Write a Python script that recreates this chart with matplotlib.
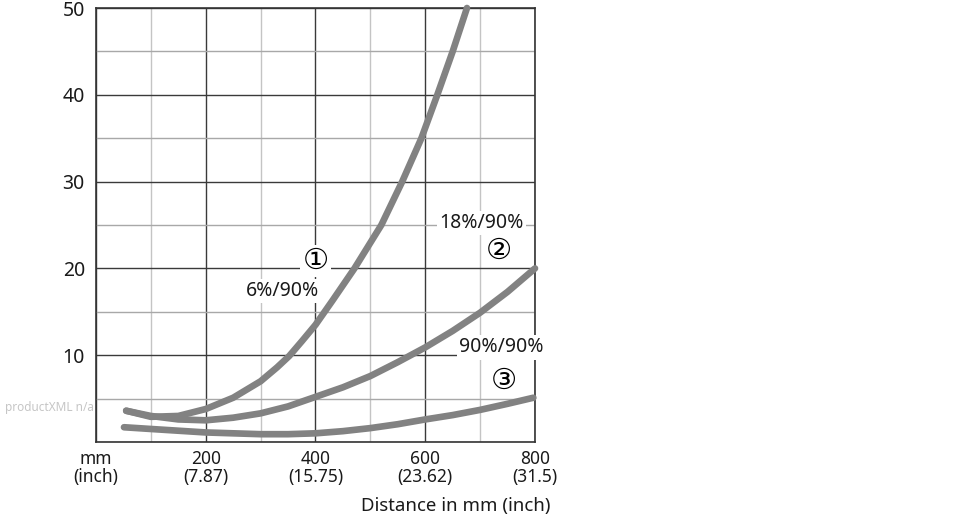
import matplotlib
matplotlib.use("Agg")
import matplotlib.pyplot as plt
from matplotlib.ticker import MultipleLocator

plt.rcParams['font.family'] = ['Noto Sans', 'DejaVu Sans']

# Curve 1: 6%/90%
x_6 = [55, 100, 150, 200, 250, 300, 330, 352, 375, 400, 431, 471, 520, 558, 593, 622, 650, 676]
y_6 = [3.6, 2.9, 3.0, 3.8, 5.1, 7.0, 8.6, 9.9, 11.6, 13.5, 16.3, 20.0, 25.0, 30.0, 35.0, 40.0, 45.0, 50.0]

# Curve 2: 18%/90%
x_18 = [55, 100, 150, 200, 250, 300, 350, 400, 450, 500, 550, 600, 650, 700, 750, 800]
y_18 = [3.6, 3.0, 2.6, 2.5, 2.8, 3.3, 4.1, 5.2, 6.3, 7.6, 9.2, 10.9, 12.8, 14.9, 17.3, 20.0]

# Curve 3: 90%/90%
x_90 = [51, 100, 150, 200, 250, 300, 350, 400, 450, 500, 550, 600, 650, 700, 750, 797]
y_90 = [1.7, 1.5, 1.3, 1.1, 1.0, 0.9, 0.9, 1.0, 1.25, 1.6, 2.05, 2.6, 3.1, 3.7, 4.4, 5.1]

x_ticks = [0, 200, 400, 600, 800]
x_labels = ["mm\n(inch)", "200\n(7.87)", "400\n(15.75)", "600\n(23.62)", "800\n(31.5)"]
y_ticks = [10, 20, 30, 40, 50]

fig = plt.figure(figsize=(9.7, 5.2), dpi=100)
ax = fig.add_axes([96 / 970, 78 / 520, 439 / 970, 434 / 520])

ax.set_xlim(0, 800)
ax.set_ylim(0, 50)

# Grid: major dark, minor lighter
ax.xaxis.set_minor_locator(MultipleLocator(100))
ax.yaxis.set_minor_locator(MultipleLocator(5))
ax.grid(True, which='major', color='#3a3a3a', linewidth=1.0, zorder=0)
ax.xaxis.grid(True, which='minor', color='#c4c4c4', linewidth=1.0, zorder=0)
ax.yaxis.grid(True, which='minor', color='#a8a8a8', linewidth=1.0, zorder=0)
ax.set_axisbelow(True)

for s in ax.spines.values():
    s.set_color('#333333')
    s.set_linewidth(1.2)

ax.set_xticks(x_ticks)
ax.set_xticklabels(x_labels, fontsize=12.5, color='#1a1a1a', linespacing=1.0)
ax.set_yticks(y_ticks)
ax.set_yticklabels([str(v) for v in y_ticks], fontsize=14, color='#1a1a1a')
ax.tick_params(which='both', length=0)
ax.tick_params(axis='y', pad=8)
ax.tick_params(axis='x', pad=6)

curve_style = dict(color='#828282', linewidth=4.8, solid_capstyle='round',
                   solid_joinstyle='round', zorder=3, clip_on=False)
ax.plot(x_6, y_6, **curve_style)
ax.plot(x_18, y_18, **curve_style)
ax.plot(x_90, y_90, **curve_style)

box = dict(facecolor='white', edgecolor='none', pad=1.5)
circ_font = ['DejaVu Sans', 'Noto Sans CJK SC']
ax.text(400, 20.9, "\u2460", fontsize=21, ha='center', va='center', bbox=box, zorder=4,
        family=circ_font)
ax.text(339, 17.4, "6%/90%", fontsize=14, ha='center', va='center', bbox=box, zorder=4,
        color='#1a1a1a')
ax.text(703, 25.2, "18%/90%", fontsize=14, ha='center', va='center', bbox=box, zorder=4,
        color='#1a1a1a')
ax.text(735, 22.0, "\u2461", fontsize=21, ha='center', va='center', bbox=box, zorder=4,
        family=circ_font)
ax.text(738, 10.9, "90%/90%", fontsize=14, ha='center', va='center', bbox=box, zorder=4,
        color='#1a1a1a')
ax.text(744, 7.0, "\u2462", fontsize=21, ha='center', va='center', bbox=box, zorder=4,
        family=circ_font)

fig.text(551 / 970, 1 - 506 / 520, "Distance in mm (inch)", fontsize=13.4,
         ha='right', va='center', color='#1a1a1a')
fig.text(5 / 970, 1 - 408 / 520, "productXML n/a", fontsize=8.5,
         ha='left', va='center', color='#c6c6c6')

fig.savefig("out.png", dpi=100)
